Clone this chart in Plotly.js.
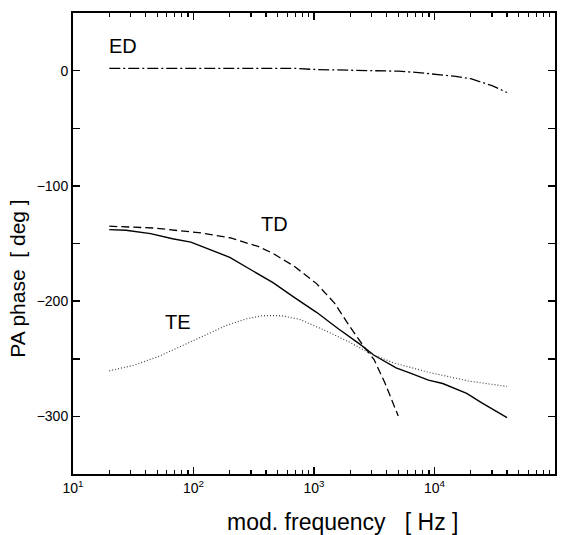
<!DOCTYPE html>
<html>
<head>
<meta charset="utf-8">
<script src="https://cdn.plot.ly/plotly-3.0.1.min.js"></script>
<style>html,body{margin:0;padding:0;background:#fff;}#chart{width:564px;height:535px;}</style>
</head>
<body>
<div id="chart"></div>
<script>
// ED curve (dash-dot)
const edFreq  = [20, 30, 50, 100, 200, 400, 700, 1000, 2000, 3000, 5000, 7000, 10000, 15000, 20000, 30000, 40000];
const edPhase = [2, 2, 2, 2, 2, 2, 2, 1, 0.5, 0, -0.5, -1.5, -3, -5, -7, -13, -19];

// solid curve
const solidFreq  = [20, 27.5, 44, 67, 95, 133, 200, 302, 457, 690, 1050, 1590, 2400, 3150, 4800, 6300, 8900, 11700, 18500, 24500, 40000];
const solidPhase = [-138, -138.5, -141.4, -145.9, -148.8, -154.5, -162, -173, -184, -197, -209.7, -224, -237.3, -247, -258, -262.5, -268.5, -271.5, -280, -288, -301];

// TD curve (dashed)
const tdFreq  = [20, 27.5, 48, 77, 116, 200, 347, 457, 690, 1050, 1480, 1950, 2570, 3150, 3890, 5000];
const tdPhase = [-135, -135.5, -136.6, -139, -140.8, -145, -152.7, -158.6, -170, -184.8, -201.7, -221, -238.8, -250.7, -271.3, -299.7];

// TE curve (dotted)
const teFreq  = [20, 32, 52, 87, 129, 188, 276, 380, 525, 760, 1270, 2000, 3000, 4580, 9150, 19600, 40000];
const tePhase = [-260.5, -255.6, -247.8, -237, -229, -221, -215.3, -212.5, -212.5, -215.8, -226, -236, -246, -253.6, -262, -269.5, -274];

const xTickVals = [10, 100, 1000, 10000, 100000];
const xTickText = ['10<sup>1</sup>', '10<sup>2</sup>', '10<sup>3</sup>', '10<sup>4</sup>', '10<sup>5</sup>'];
const xMinorMult = [2, 3, 4, 5, 6, 7, 8, 9];
const yTickVals = [-300, -200, -100, 0];
const yMinorVals = [-250, -150, -50];

const labels = [
  {text: 'ED', x: 122.5, y: 46},
  {text: 'TD', x: 274.5, y: 223.5},
  {text: 'TE', x: 178, y: 321.5}
];

const font = 'Liberation Sans, Arial, sans-serif';

const xMinorVals = [];
xTickVals.slice(0, -1).forEach(d => xMinorMult.forEach(m => xMinorVals.push(d * m)));

const traces = [
  {x: edFreq, y: edPhase, mode: 'lines', line: {color: '#000', width: 1.3, dash: '11px,3px,2px,3px'}, name: 'ED'},
  {x: solidFreq, y: solidPhase, mode: 'lines', line: {color: '#000', width: 1.4}, name: 'solid'},
  {x: tdFreq, y: tdPhase, mode: 'lines', line: {color: '#000', width: 1.3, dash: '8px,4px'}, name: 'TD'},
  {x: teFreq, y: tePhase, mode: 'lines', line: {color: '#444', width: 1.2, dash: '1px,2px'}, name: 'TE'},
  // empty trace that anchors the overlay axes carrying the minor ticks
  {x: [], y: [], xaxis: 'x2', yaxis: 'y2', mode: 'lines', hoverinfo: 'skip', showlegend: false}
];

const L = 73, R = 555, T = 13, B = 474, W = 564, H = 535;
const ann = labels.map(a => ({
  text: a.text, xref: 'paper', yref: 'paper',
  x: (a.x - L) / (R - L), y: (B - a.y) / (B - T),
  showarrow: false, xanchor: 'center', yanchor: 'middle',
  font: {family: font, size: 20, color: '#000'}
}));

const nb = n => '&nbsp;'.repeat(n);

const layout = {
  width: W, height: H,
  margin: {l: L, r: W - R, t: T, b: H - B},
  paper_bgcolor: '#fff', plot_bgcolor: '#fff',
  showlegend: false,
  font: {family: font, color: '#000'},
  xaxis: {
    type: 'log', range: [1, 5],
    tickmode: 'array', tickvals: xTickVals, ticktext: xTickText,
    ticks: 'inside', ticklen: 7, tickwidth: 1.5, tickcolor: '#000',
    showline: true, linewidth: 2, linecolor: '#000', mirror: 'allticks',
    showgrid: false, zeroline: false,
    tickfont: {family: font, size: 14, color: '#000'},
    title: {text: nb(9) + 'mod. frequency' + nb(3) + '[ Hz ]', font: {family: font, size: 23, color: '#000'}, standoff: 20}
  },
  yaxis: {
    range: [-350, 50],
    tickmode: 'array', tickvals: yTickVals,
    ticks: 'inside', ticklen: 7, tickwidth: 1.5, tickcolor: '#000',
    showline: true, linewidth: 2, linecolor: '#000', mirror: 'allticks',
    showgrid: false, zeroline: false,
    tickfont: {family: font, size: 14, color: '#000'},
    title: {text: 'PA phase' + nb(2) + '[ deg ]' + nb(12), font: {family: font, size: 21, color: '#000'}, standoff: 5}
  },
  xaxis2: {
    type: 'log', range: [1, 5], overlaying: 'x', anchor: 'y2', side: 'bottom',
    tickmode: 'array', tickvals: xMinorVals, showticklabels: false,
    ticks: 'inside', ticklen: 4, tickwidth: 1.3, tickcolor: '#000',
    showline: false, mirror: 'ticks', showgrid: false, zeroline: false
  },
  yaxis2: {
    range: [-350, 50], overlaying: 'y', anchor: 'x2', side: 'left',
    tickmode: 'array', tickvals: yMinorVals, showticklabels: false,
    ticks: 'inside', ticklen: 7, tickwidth: 1.5, tickcolor: '#000',
    showline: false, mirror: 'ticks', showgrid: false, zeroline: false
  },
  annotations: ann
};

Plotly.newPlot('chart', traces, layout, {staticPlot: true, displayModeBar: false});
</script>
</body>
</html>
